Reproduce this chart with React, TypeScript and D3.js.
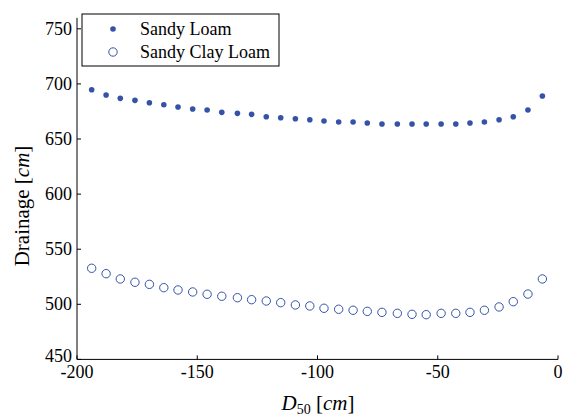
import React from "react";
import * as d3 from "d3";

// D50 positions [cm] shared by both soil series
const d50: number[] = [
  -193.9, -187.9, -182.0, -175.9, -169.9, -163.9, -158.0, -151.9, -145.9, -139.8,
  -133.3, -127.4, -121.3, -115.3, -109.2, -103.2, -97.3, -91.2, -85.2, -79.3,
  -73.2, -66.8, -60.7, -54.8, -48.6, -42.5, -36.6, -30.6, -24.5, -18.6, -12.5, -6.5,
];

// Drainage [cm] for sandy loam
const sandyLoam: number[] = [
  694.7, 689.9, 686.9, 685.1, 682.9, 681.1, 679.0, 677.2, 676.3, 674.2,
  673.3, 672.4, 670.2, 669.3, 668.4, 667.5, 666.3, 665.4, 665.4, 664.5,
  663.6, 663.6, 663.6, 663.6, 663.6, 663.6, 664.5, 665.4, 667.5, 670.2, 676.3, 689.0,
];

// Drainage [cm] for sandy clay loam
const sandyClayLoam: number[] = [
  532.7, 527.8, 523.0, 520.0, 518.1, 515.1, 513.0, 511.2, 509.1, 507.3,
  506.0, 504.2, 503.0, 501.5, 499.4, 498.5, 496.4, 495.5, 494.6, 493.6,
  492.7, 491.8, 490.9, 490.6, 491.8, 491.8, 492.7, 494.6, 497.6, 502.4, 509.3, 523.0,
];

const xTicks: number[] = [-200, -150, -100, -50, 0];
const yTicks: number[] = [450, 500, 550, 600, 650, 700, 750];
const seriesNames: string[] = ["Sandy Loam", "Sandy Clay Loam"];

const W = 571;
const H = 416;
const FONT = "'Liberation Serif', 'Times New Roman', serif";
const BLUE = "#3552a8";

export default function App() {
  const x = d3.scaleLinear().domain([-200, 0]).range([77, 558]);
  const y = d3.scaleLinear().domain([450, 760]).range([359.4, 17.8]);
  const [x0, x1] = x.range();
  const [y0, y1] = y.range();

  return (
    <svg
      width={W}
      height={H}
      viewBox={`0 0 ${W} ${H}`}
      style={{ position: "absolute", left: 0, top: 0, background: "#fff" }}
      fontFamily={FONT}
    >
      <rect x={0} y={0} width={W} height={H} fill="#fff" />

      {/* axes */}
      <line x1={x0} y1={y0} x2={x1} y2={y0} stroke="#000" strokeWidth={1} />
      <line x1={x0} y1={y0} x2={x0} y2={y1} stroke="#000" strokeWidth={1} />

      {xTicks.map((t) => (
        <g key={`xt${t}`}>
          <line x1={x(t)} x2={x(t)} y1={y0} y2={y0 - 4} stroke="#000" />
          <text x={x(t)} y={y0 + 19} fontSize={18} textAnchor="middle" fill="#000">
            {t}
          </text>
        </g>
      ))}
      {yTicks.map((t, i) => (
        <g key={`yt${t}`}>
          <line x1={x0} x2={x0 + 4} y1={y(t)} y2={y(t)} stroke="#000" />
          <text
            x={x0 - 5}
            y={y(t) - (i === 0 ? 3 : 0)}
            fontSize={18}
            textAnchor="end"
            dominantBaseline="central"
            fill="#000"
          >
            {t}
          </text>
        </g>
      ))}

      {/* series */}
      {d50.map((d, i) => (
        <circle key={`sl${i}`} cx={x(d)} cy={y(sandyLoam[i])} r={2.8} fill={BLUE} />
      ))}
      {d50.map((d, i) => (
        <circle
          key={`scl${i}`}
          cx={x(d)}
          cy={y(sandyClayLoam[i])}
          r={4.2}
          fill="none"
          stroke={BLUE}
          strokeWidth={1}
        />
      ))}

      {/* axis titles */}
      <text x={318} y={410} fontSize={21} textAnchor="middle" fill="#000">
        <tspan fontStyle="italic">D</tspan>
        <tspan fontSize={14} dy={4}>50</tspan>
        <tspan dy={-4}> [</tspan>
        <tspan fontStyle="italic">cm</tspan>
        <tspan>]</tspan>
      </text>
      <text
        transform="translate(29,206) rotate(-90)"
        fontSize={21}
        textAnchor="middle"
        fill="#000"
      >
        <tspan>Drainage [</tspan>
        <tspan fontStyle="italic">cm</tspan>
        <tspan>]</tspan>
      </text>

      {/* legend */}
      <rect x={82} y={14} width={197} height={52} fill="#fff" stroke="#000" strokeWidth={1} />
      <circle cx={113} cy={29} r={2.8} fill={BLUE} />
      <circle cx={113} cy={52} r={4.2} fill="none" stroke={BLUE} />
      <text x={140} y={29} fontSize={18} dominantBaseline="central" fill="#000">
        {seriesNames[0]}
      </text>
      <text x={140} y={52} fontSize={18} dominantBaseline="central" fill="#000">
        {seriesNames[1]}
      </text>
    </svg>
  );
}
